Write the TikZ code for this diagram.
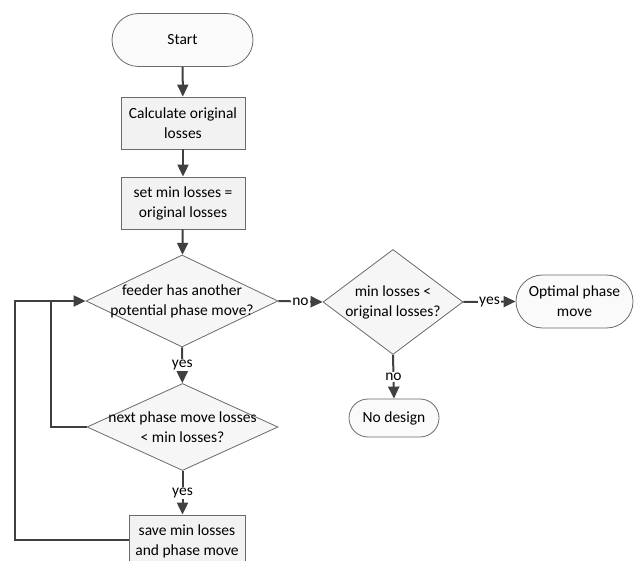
\documentclass[tikz,border=0pt]{standalone}
\usepackage{fontspec}
\setmainfont{Carlito}
\usetikzlibrary{shapes.geometric,arrows.meta}
\definecolor{edge}{HTML}{404040}
\definecolor{bord}{HTML}{6A6A6A}
\definecolor{boxfill}{HTML}{F2F2F2}
\definecolor{diafill}{HTML}{F6F6F6}
\definecolor{termfill}{HTML}{FAFAFA}
\tikzset{
  txt/.style={font=\fontsize{15.5}{20}\selectfont, align=center, text=black},
  procbox/.style={draw=bord, line width=0.8pt, fill=boxfill, rectangle, minimum width=124pt, minimum height=52pt, inner sep=0pt, txt},
  termbox/.style={draw=bord, line width=0.8pt, fill=termfill, rectangle, inner sep=0pt, txt},
  dia/.style={draw=bord, line width=0.8pt, fill=diafill, diamond, inner sep=0pt},
  flow/.style={draw=edge, line width=2pt, -{Triangle[length=12pt,width=11pt]}},
  loopline/.style={draw=edge, line width=2pt},
  lab/.style={fill=white, inner sep=1pt, font=\fontsize{15.5}{20}\selectfont}
}
\begin{document}
\begin{tikzpicture}[x=1pt,y=-1pt]
\useasboundingbox (0,0) rectangle (638,561);
\clip (0,0) rectangle (638,561);
% nodes
\node[termbox, minimum width=141pt, minimum height=53pt, rounded corners=26.5pt] (start) at (182.5,40) {Start};
\node[procbox] (calc) at (183,123) {Calculate original\\losses};
\node[procbox] (setmin) at (183,203) {set min losses =\\original losses};
\node[dia, minimum width=192pt, minimum height=92pt, label={[txt]center:{feeder has another\\potential phase move?}}] (d1) at (182,301) {};
\node[dia, minimum width=191pt, minimum height=87pt, label={[txt]center:{next phase move losses\\< min losses?}}] (d3) at (182.5,427) {};
\node[procbox, minimum width=116pt] (save) at (187,541) {save min losses\\and phase move};
\node[dia, minimum width=140pt, minimum height=105pt, label={[txt]center:{min losses <\\original losses?}}] (d2) at (393,302) {};
\node[termbox, minimum width=117pt, minimum height=53pt, rounded corners=26.5pt] (opt) at (574.5,301.5) {Optimal phase\\move};
\node[termbox, minimum width=90pt, minimum height=38pt, rounded corners=19pt] (nod) at (394,418) {No design};
% connectors
\draw[flow] (start) -- (calc);
\draw[flow] (calc) -- (setmin);
\draw[flow] (setmin) -- (d1);
\draw[flow] (d1) -- node[lab]{yes} (d3);
\draw[flow] (d3) -- node[lab, pos=0.5]{yes} (save.north -| d3.south);
\draw[flow] (d1.east) -- node[lab, pos=0.5]{no} (d2.west);
\draw[flow] (d2.east) -- node[lab, pos=0.5]{yes} (opt.west);
\draw[flow] (d2.south) -- node[lab, pos=0.5]{no} (nod.north);
\coordinate (la) at (15,540);
\coordinate (lb) at (15,301);
\coordinate (lc) at (51,427);
\coordinate (ld) at (51,301);
\draw[loopline] (save.west |- la) -- (la) -- (lb) -- (ld);
\draw[loopline] (d3.west) -- (lc) -- (ld);
\draw[flow] (lb) -- (d1.west);
\end{tikzpicture}
\end{document}
